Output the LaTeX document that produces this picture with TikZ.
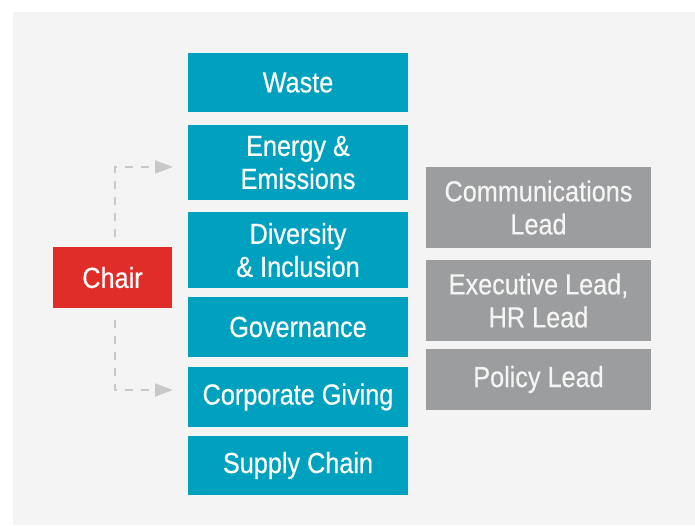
\documentclass[tikz,border=0pt]{standalone}
\usepackage{fontspec}
\setmainfont{Liberation Sans}[FakeStretch=0.87,FakeBold=0.4]
\usetikzlibrary{arrows.meta}
\definecolor{bgc}{HTML}{F4F4F4}
\definecolor{tealc}{HTML}{00A1BE}
\definecolor{redc}{HTML}{E02D27}
\definecolor{grayc}{HTML}{9C9D9F}
\definecolor{dashc}{HTML}{C8C8C8}
\tikzset{
  box/.style={inner sep=0pt, align=center, text=white,
    font=\fontsize{21.75pt}{24.75pt}\selectfont},
  tealbox/.style={box, fill=tealc, minimum width=165pt},
  graybox/.style={box, fill=grayc, minimum width=168.75pt, text=white!96!black},
  chairbox/.style={box, fill=redc, minimum width=89.25pt, minimum height=45.75pt},
  conn/.style={draw=dashc, line width=2pt, dash pattern=on 6pt off 6pt,
    -{Triangle[length=13.5pt,width=9.5pt,fill=dashc]}}
}
\begin{document}
\begin{tikzpicture}[x=0.75pt,y=-0.75pt]
\useasboundingbox (0,0) rectangle (695,525);
\fill[white] (0,0) rectangle (695,525);
\fill[bgc] (13,12) rectangle (695,525);

\node[tealbox, minimum height=44.25pt] (waste) at (298,82.5) {Waste};
\node[tealbox, minimum height=56.25pt] (energy) at (298,162.5) {Energy \&\\Emissions};
\node[tealbox, minimum height=57pt] (diversity) at (298,250) {Diversity\\\& Inclusion};
\node[tealbox, minimum height=45pt] (governance) at (298,327) {Governance};
\node[tealbox, minimum height=45pt] (giving) at (298,397) {Corporate Giving};
\node[tealbox, minimum height=44.25pt] (supply) at (298,465.5) {Supply Chain};

\node[chairbox] (chair) at (112.5,277.5) {Chair};

\node[graybox, minimum height=60.75pt] (comm) at (538.5,207.5) {Communications\\Lead};
\node[graybox, minimum height=60.75pt] (exec) at (538.5,300.5) {Executive Lead,\\HR Lead};
\node[graybox, minimum height=45.75pt] (policy) at (538.5,379.5) {Policy Lead};

\coordinate (up0) at (115,237);
\coordinate (up1) at (173,167);
\coordinate (dn0) at (115,320);
\coordinate (dn1) at (173,390);
\draw[conn] (up0) |- (up1);
\draw[conn] (dn0) |- (dn1);
\end{tikzpicture}
\end{document}
